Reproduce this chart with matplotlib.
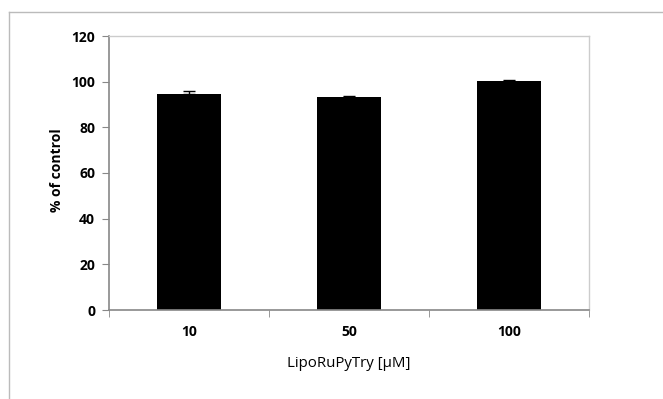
import matplotlib
matplotlib.use("Agg")
import matplotlib.pyplot as plt
from matplotlib.lines import Line2D

categories = ["10", "50", "100"]
values = [94.6, 93.2, 100.2]
errors = [1.2, 0.7, 0.4]
yticks = [0, 20, 40, 60, 80, 100, 120]

plt.rcParams['font.family'] = ['Open Sans', 'DejaVu Sans']

fig = plt.figure(figsize=(6.63, 3.99), dpi=100)
W, H = 663, 399
ax = fig.add_axes([109/W, 1-310/H, (589-109)/W, (310-36)/H])

x = list(range(len(categories)))
ax.bar(x, values, width=0.4, color='black', zorder=2)
ax.errorbar(x, values, yerr=[[0]*len(errors), errors], fmt='none', ecolor='black',
            elinewidth=1, capsize=4, capthick=1, zorder=3)

ax.set_xlim(-0.5, len(categories)-0.5)
ax.set_ylim(0, 120)
ax.set_yticks(yticks)
ax.set_yticklabels([str(t) for t in yticks], fontsize=10, fontweight='bold')
ax.set_xticks(x)
ax.set_xticklabels(categories, fontsize=10, fontweight='bold')
ax.tick_params(axis='x', length=0, pad=11)
ax.set_xticks([-0.5, 0.5, 1.5, 2.5], minor=True)
ax.tick_params(axis='x', which='minor', length=5, color='#888888', direction='out')
ax.tick_params(axis='y', length=5, color='#888888', direction='out', pad=5)

for s in ['left', 'bottom']:
    ax.spines[s].set_color('#888888')
    ax.spines[s].set_linewidth(1.2)
for s in ['top', 'right']:
    ax.spines[s].set_color('#cccccc')
    ax.spines[s].set_linewidth(1.0)

ax.set_ylabel('% of control', fontsize=10, fontweight='bold')
ax.yaxis.set_label_coords(-0.094, 0.51)
ax.set_xlabel('LipoRuPyTry [µM]', fontsize=10.8, labelpad=12)

# outer chart border
fig.add_artist(Line2D([9/W, 9/W], [0, 1-12/H], transform=fig.transFigure, color='#bbbbbb', lw=1))
fig.add_artist(Line2D([9/W, 1], [1-12/H, 1-12/H], transform=fig.transFigure, color='#bbbbbb', lw=1))

fig.savefig('out.png', dpi=100)
